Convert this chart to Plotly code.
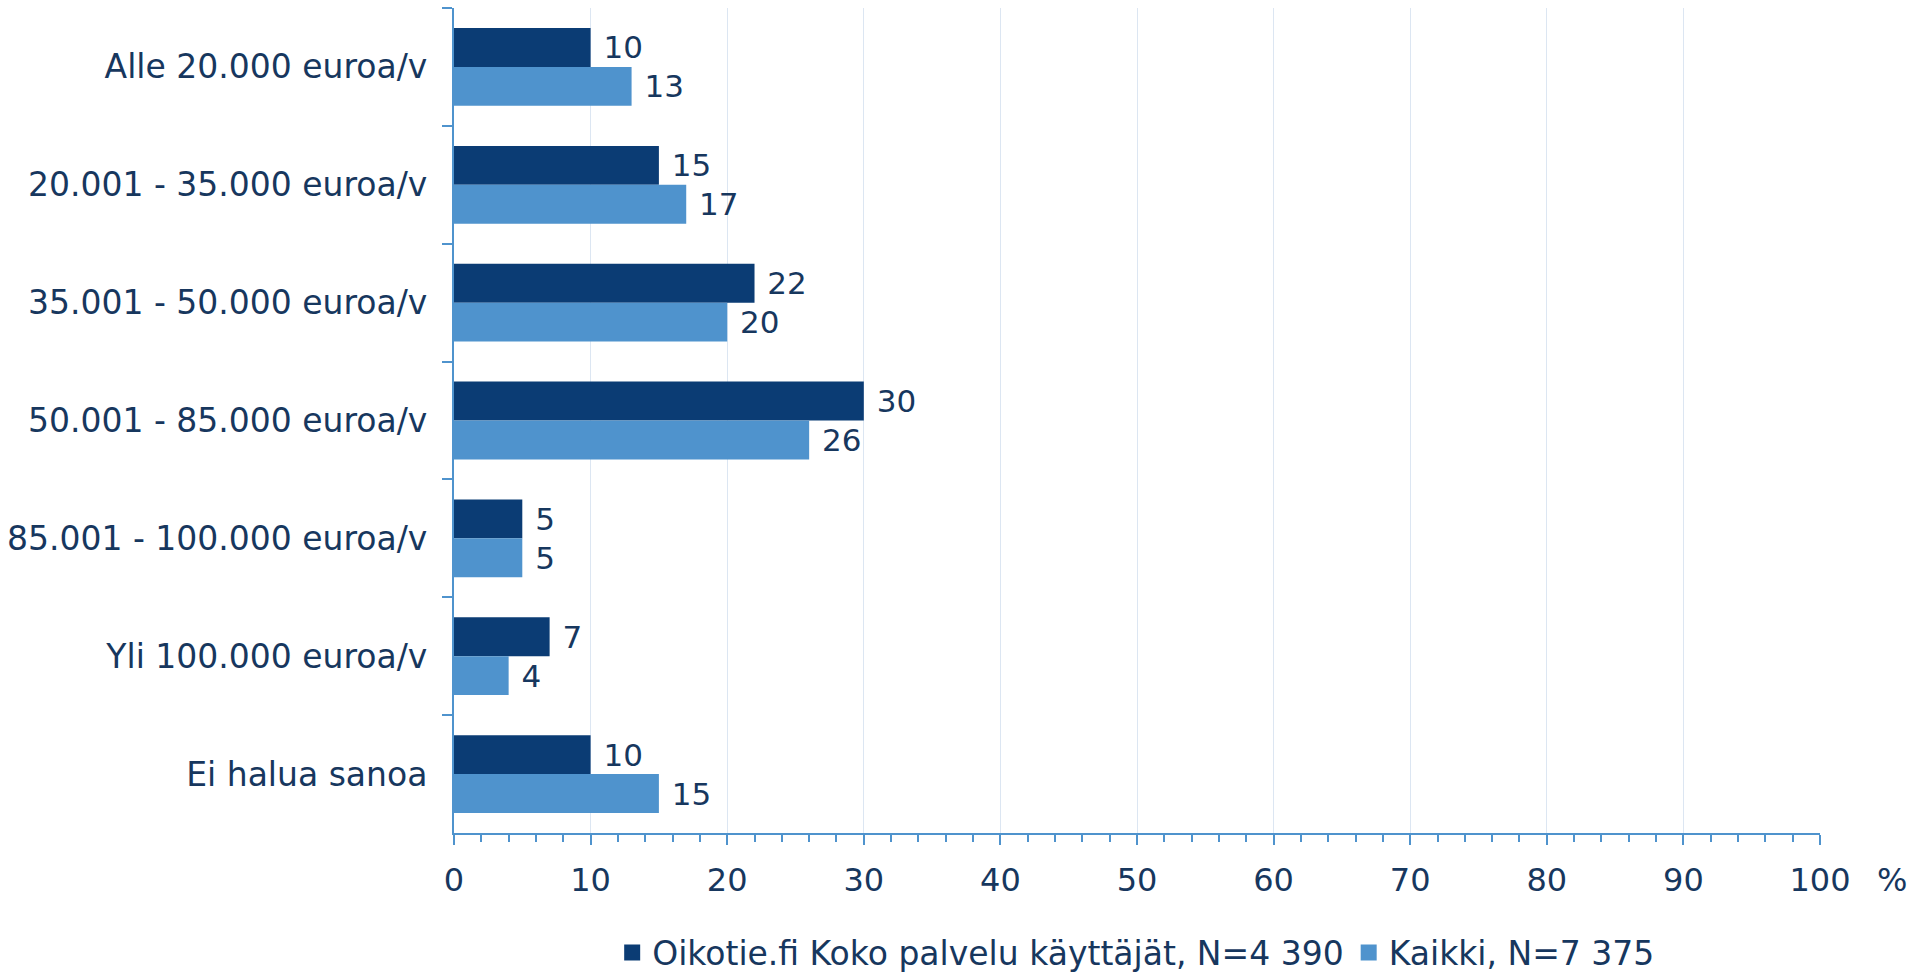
import plotly.graph_objects as go

categories = ["Alle 20.000 euroa/v", "20.001 - 35.000 euroa/v", "35.001 - 50.000 euroa/v",
              "50.001 - 85.000 euroa/v", "85.001 - 100.000 euroa/v", "Yli 100.000 euroa/v",
              "Ei halua sanoa"]
oikotie = [10, 15, 22, 30, 5, 7, 10]
kaikki = [13, 17, 20, 26, 5, 4, 15]
series_names = ["Oikotie.fi Koko palvelu käyttäjät, N=4 390", "Kaikki, N=7 375"]
x_ticks = [0, 10, 20, 30, 40, 50, 60, 70, 80, 90, 100]

DARK = "#0B3C74"
LIGHT = "#4F93CD"
TEXT = "#17375E"
AXIS = "#4F93CD"
GRID = "#DCE6F2"
FONT = "DejaVu Sans"

fig = go.Figure()
for name, vals, col in [(series_names[0], oikotie, DARK), (series_names[1], kaikki, LIGHT)]:
    fig.add_trace(go.Bar(
        y=categories, x=vals, name=name, orientation="h",
        marker=dict(color=col, line=dict(width=0)),
        text=[" " + str(v) for v in vals], textposition="outside",
        textfont=dict(family=FONT, size=31, color=TEXT),
        cliponaxis=False, showlegend=False, legendgroup=name,
    ))
# legend entries with larger square symbols
for name, col in [(series_names[0], DARK), (series_names[1], LIGHT)]:
    fig.add_trace(go.Scatter(
        x=[None], y=[None], mode="markers", name=name, legendgroup=name,
        marker=dict(symbol="square", size=20, color=col), showlegend=True,
    ))

fig.update_layout(
    width=1929, height=973,
    margin=dict(l=454, r=109, t=8, b=140),
    paper_bgcolor="white", plot_bgcolor="white",
    barmode="group", bargap=0.34, bargroupgap=0,
    font=dict(family=FONT, size=31, color=TEXT),
    showlegend=True,
    legend=dict(orientation="h", xref="container", yref="container",
                x=0.589, xanchor="center", y=0.021, yanchor="middle",
                font=dict(family=FONT, size=33, color=TEXT), traceorder="normal",
                itemwidth=30, tracegroupgap=0, itemsizing="trace"),
    xaxis=dict(range=[0, 100], tickvals=x_ticks, ticktext=[str(t) for t in x_ticks],
               showgrid=True, gridcolor=GRID, gridwidth=1,
               showline=True, linecolor=AXIS, linewidth=2,
               ticks="outside", ticklen=10, tickcolor=AXIS, tickwidth=2,
               minor=dict(dtick=2, ticks="outside", ticklen=7, tickcolor=AXIS, tickwidth=2, showgrid=False),
               tickfont=dict(family=FONT, size=32, color=TEXT),
               ticklabelstandoff=8, zeroline=False, fixedrange=True, automargin=False),
    yaxis=dict(autorange="reversed", showline=True, linecolor=AXIS, linewidth=2,
               ticks="outside", tickson="boundaries", ticklen=10, tickcolor=AXIS, tickwidth=2,
               tickfont=dict(family=FONT, size=33, color=TEXT),
               ticklabelstandoff=18, showgrid=False, zeroline=False, automargin=False),
)

fig.add_annotation(text="%", xref="paper", yref="paper", x=1.053, y=-0.057,
                   xanchor="center", yanchor="middle", showarrow=False,
                   font=dict(family=FONT, size=32, color=TEXT))

fig.write_html("out.html", config={"displayModeBar": False},
               post_script="document.body.style.margin='0';document.body.style.overflow='hidden';")
